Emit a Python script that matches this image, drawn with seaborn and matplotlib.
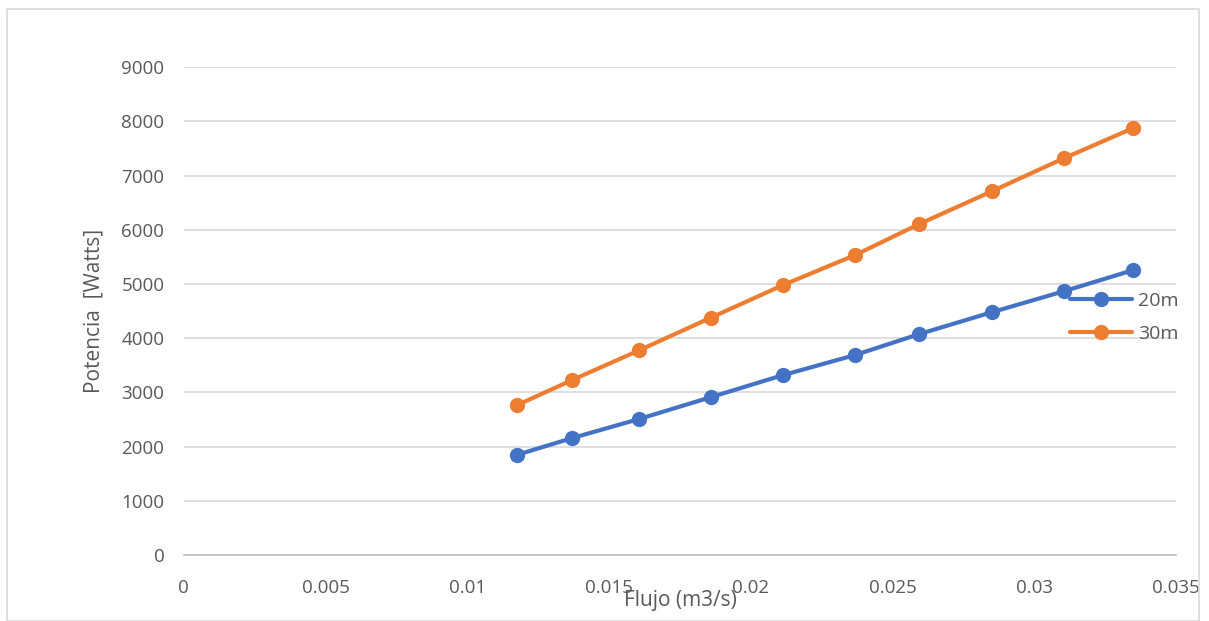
import matplotlib
matplotlib.use("Agg")
import matplotlib.pyplot as plt
import seaborn as sns
import pandas as pd
from matplotlib.patches import Rectangle

flujo = [0.01175, 0.01369, 0.01605, 0.01859, 0.02113, 0.02367, 0.02593, 0.02851, 0.03105, 0.03348]
pot_20m = [1850, 2158, 2510, 2914, 3320, 3690, 4076, 4482, 4869, 5256]
pot_30m = [2766, 3228, 3775, 4380, 4980, 5533, 6105, 6713, 7322, 7875]
series = ["20m", "30m"]
colors = ["#4472C4", "#ED7D31"]

df = pd.concat([
    pd.DataFrame({"Flujo": flujo, "Potencia": pot_20m, "Serie": series[0]}),
    pd.DataFrame({"Flujo": flujo, "Potencia": pot_30m, "Serie": series[1]}),
])

sns.set_style("white")
plt.rcParams["font.family"] = ["Open Sans", "DejaVu Sans"]

fig = plt.figure(figsize=(12.09, 6.21), dpi=100)
ax = fig.add_axes([0.152, 0.106, 0.821, 0.786])

sns.lineplot(data=df, x="Flujo", y="Potencia", hue="Serie", palette=colors,
             marker="o", markersize=11, markeredgewidth=0, linewidth=3, ax=ax)

ax.set_xlim(0, 0.035)
ax.set_ylim(0, 9000)
ax.set_xticks([0, 0.005, 0.01, 0.015, 0.02, 0.025, 0.03, 0.035])
ax.set_xticklabels(["0", "0.005", "0.01", "0.015", "0.02", "0.025", "0.03", "0.035"])
ax.set_yticks(range(0, 9001, 1000))
ax.grid(axis="y", color="#D9D9D9", linewidth=1.2)
ax.set_axisbelow(True)
for s in ["top", "right", "left"]:
    ax.spines[s].set_visible(False)
ax.spines["bottom"].set_color("#BFBFBF")
ax.spines["bottom"].set_linewidth(1.2)
ax.tick_params(axis="both", length=0, labelsize=13.5, labelcolor="#595959")
ax.tick_params(axis="x", pad=17)
ax.tick_params(axis="y", pad=14)

ax.set_xlabel("Flujo (m3/s)", fontsize=15, color="#595959")
ax.xaxis.set_label_coords(0.5, -0.072)
ax.set_ylabel("Potencia  [Watts]", fontsize=15, color="#595959")
ax.yaxis.set_label_coords(-0.08, 0.5)

leg = ax.legend(loc="upper right", bbox_to_anchor=(1.01, 0.555), frameon=False,
                fontsize=14, labelcolor="#595959", handlelength=3.2,
                handletextpad=0.3, labelspacing=0.75, borderaxespad=0)

fig.patches.append(Rectangle((0.006, 0.0), 0.986, 0.986, transform=fig.transFigure,
                             fill=False, edgecolor="#D9D9D9", linewidth=1.2))

fig.savefig("out.png", dpi=100)
